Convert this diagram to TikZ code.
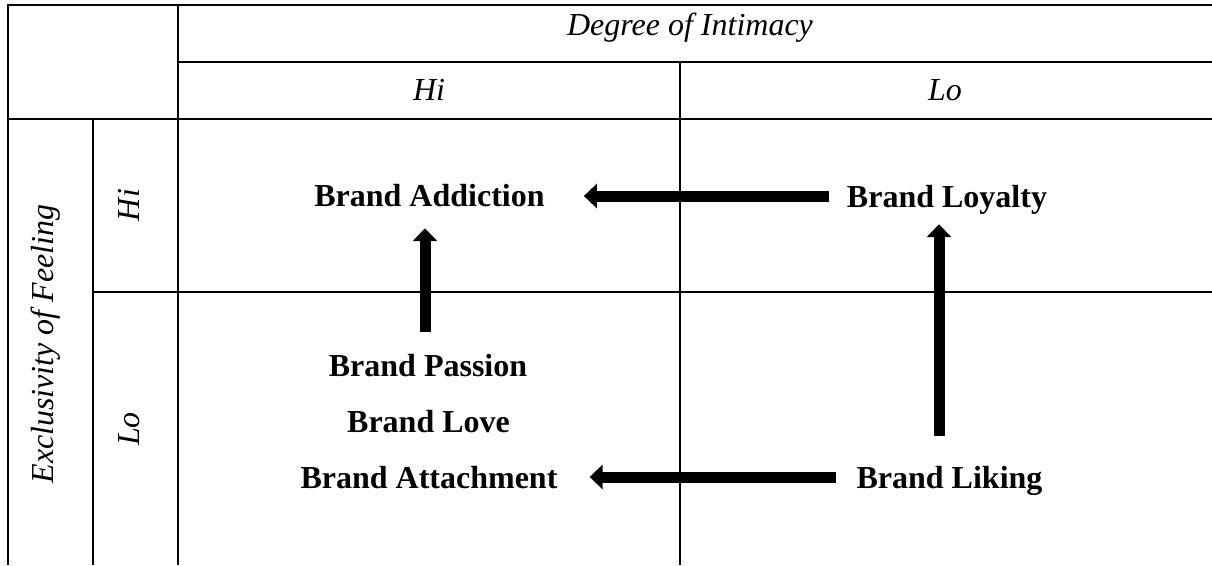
\documentclass[tikz,border=0pt]{standalone}
\usepackage{fontspec}
\setmainfont{Liberation Serif}
\usetikzlibrary{arrows.meta}
\begin{document}
\begin{tikzpicture}[x=1pt,y=-1pt,
  grid/.style={line width=2pt},
  construct/.style={font=\fontsize{32}{38}\selectfont\bfseries, inner sep=0pt,
    text height=22pt, text depth=0pt},
  axislabel/.style={font=\fontsize{32}{38}\selectfont\itshape, inner sep=0pt,
    text height=22pt, text depth=0pt},
  bigarrow/.style={line width=11pt, -{Triangle[length=13pt,width=24pt]}}]
\useasboundingbox (0,0) rectangle (1212,565);

% table rules
\draw[grid] (1212,5) -- (8,5) -- (8,565);
\draw[grid] (178,5) -- (178,565);
\draw[grid] (178,62) -- (1212,62);
\draw[grid] (8,119) -- (1212,119);
\draw[grid] (93,119) -- (93,565);
\draw[grid] (680,62) -- (680,565);
\draw[grid] (93,292) -- (1212,292);

% column headings
\node[axislabel] (intimacy) at (690,24) {Degree of Intimacy};
\node[axislabel] (colhi) at (429,89) {Hi};
\node[axislabel] (collo) at (945,89) {Lo};

% row headings
\node[axislabel, rotate=90] (exclusivity) at (42,344) {Exclusivity of Feeling};
\node[axislabel, rotate=90] (rowhi) at (128,205) {Hi};
\node[axislabel, rotate=90] (rowlo) at (128,429) {Lo};

% constructs
\node[construct] (addiction) at (429.5,195) {Brand Addiction};
\node[construct] (loyalty) at (947,196) {Brand Loyalty};
\node[construct] (passion) at (428,365) {Brand Passion};
\node[construct] (love) at (428.5,421) {Brand Love};
\node[construct] (attachment) at (429,477) {Brand Attachment};
\node[construct] (liking) at (949.5,477) {Brand Liking};

% transitions
\draw[bigarrow, shorten <=18pt, shorten >=39pt] (loyalty.west) -- (loyalty.west -| addiction.east);
\draw[bigarrow, shorten <=20pt, shorten >=32pt] (liking.west) -- (liking.west -| attachment.east);
\draw[bigarrow, shorten <=22pt, shorten >=22pt] ([xshift=-3pt]passion.north) -- ([xshift=-3pt]passion.north |- addiction.south);
\draw[bigarrow, shorten <=30pt, shorten >=17pt] ([xshift=-10.5pt]liking.north) -- ([xshift=-10.5pt]liking.north |- loyalty.south);
\end{tikzpicture}
\end{document}
